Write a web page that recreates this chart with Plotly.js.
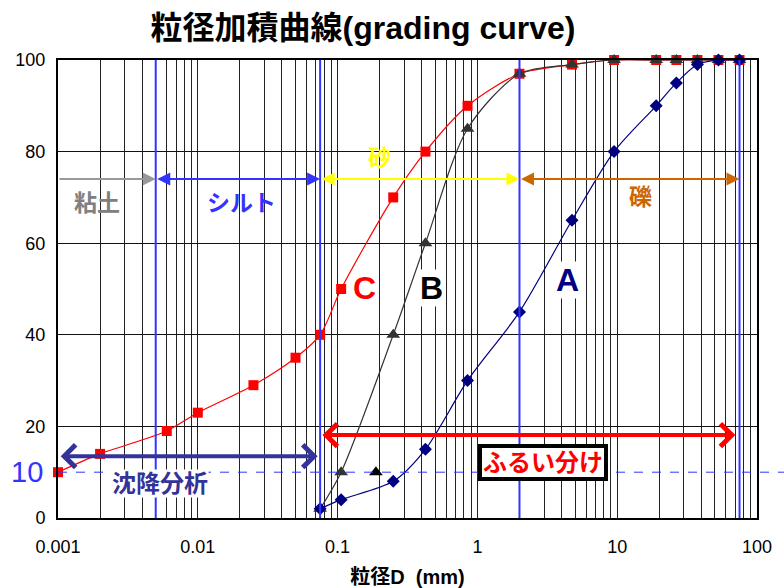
<!DOCTYPE html>
<html><head><meta charset="utf-8">
<script src="https://cdn.plot.ly/plotly-3.0.1.min.js"></script>
<style>body{margin:0;background:#fff}#c{width:784px;height:588px}</style>
</head><body><div id="c"></div>
<script>
// sieve / particle sizes (mm)
const sizesC = [0.001,0.002,0.006,0.01,0.025,0.05,0.075,0.106,0.25,0.425,0.85,2,4.75,9.5,19,26.5,37.5,53,75];
const passC  = [10,14,19,23,29,35,40,50,70,80,90,97,99,100,100,100,100,100,100];
const sizesB = [0.075,0.106,0.25,0.425,0.85,2,4.75,9.5,19,26.5,37.5,53,75];
const passB  = [2,10,40,60,85,97,99,100,100,100,100,100,100];
const sizesA = [0.075,0.106,0.25,0.425,0.85,2,4.75,9.5,19,26.5,37.5,53,75];
const passA  = [2,4,8,15,30,45,65,80,90,95,99,100,100];
const strayX = [0.188];
const strayY = [10];
// soil class boundaries (mm)
const bounds = [0.005,0.075,2,75];
const decadeTicks = [0.001,0.01,0.1,1,10,100];
const decadeLabels = ['0.001','0.01','0.1','1','10','100'];
const yTicks = [0,20,40,60,80,100];

const gridVals=[], gridText=[];
decadeTicks.forEach((d,i)=>{
  const n = (i===decadeTicks.length-1)?1:9;
  for(let m=1;m<=n;m++){gridVals.push(d*m);gridText.push(m===1?decadeLabels[i]:'');}
});

const traces = [
  {x:sizesC,y:passC,mode:'lines+markers',cliponaxis:false,line:{color:'#FF0000',width:1.2,shape:'spline',smoothing:0.8},
   marker:{symbol:'square',size:10,color:'#FF0000'}},
  {x:sizesB,y:passB,mode:'lines+markers',cliponaxis:false,line:{color:'#333333',width:1.2,shape:'spline',smoothing:0.8},
   marker:{symbol:'triangle-up',size:12,color:'#333333'}},
  {x:sizesA,y:passA,mode:'lines+markers',cliponaxis:false,line:{color:'#000080',width:1.2,shape:'spline',smoothing:0.8},
   marker:{symbol:'diamond',size:10,color:'#000080'}},
  {x:strayX,y:strayY,mode:'markers',marker:{symbol:'triangle-up',size:12,color:'#000000'}}
];

const L = Math.log10;
const shapes = bounds.map(b=>({type:'line',xref:'x',yref:'y',x0:b,x1:b,y0:0,y1:100,
  line:{color:'#3333FF',width:2}}));
shapes.push({type:'line',xref:'paper',yref:'y',x0:0,x1:1.04,y0:10,y1:10,
  line:{color:'#3333FF',width:1,dash:'dash'}});

function arrow(x0,x1,y,color,w,both,head,size){
  return {xref:'x',yref:'y',axref:'x',ayref:'y',x:L(x1),y:y,ax:L(x0),ay:y,text:'',
    showarrow:true,arrowcolor:color,arrowwidth:w,arrowhead:head,startarrowhead:head,
    arrowsize:size,startarrowsize:size,arrowside:both?'end+start':'end',standoff:0,startstandoff:0};
}
const JP = 'Liberation Sans, Noto Sans CJK JP, sans-serif';
function label(x,y,text,color,size,extra){
  return Object.assign({xref:'x',yref:'y',x:L(x),y:y,text:'<b>'+text+'</b>',showarrow:false,
    font:{family:JP,size:size,color:color}},extra||{});
}
const annotations = [
  arrow(0.001,0.005,74,'#999999',2,false,2,1.3),
  arrow(0.005,0.075,74,'#3333FF',2,true,2,1.3),
  arrow(0.075,2,74,'#FFFF00',2,true,2,1.3),
  arrow(2,75,74,'#CC6600',2,true,2,1.3),
  arrow(0.00102,0.072,13.5,'#333399',4,true,4,1.1),
  arrow(0.076,70,18.1,'#FF0000',4,true,4,1.1),
  label(0.0019,68.8,'粘土','#808080',23),
  label(0.0204,68.8,'シルト','#3333FF',23),
  label(0.201,78.6,'砂','#FFFF00',23),
  label(14.6,70.1,'礫','#CC6600',23),
  label(0.157,50.2,'C','#FF0000',32,{bgcolor:'#ffffff',borderpad:0}),
  label(0.473,50.2,'B','#000000',32,{bgcolor:'#ffffff',borderpad:0}),
  label(4.38,52,'A','#000080',32,{bgcolor:'#ffffff',borderpad:0}),
  label(0.0054,7.6,'沈降分析','#333399',24,{bgcolor:'#ffffff',borderpad:0}),
  label(2.95,12.2,'ふるい分け','#FF0000',24,
    {bgcolor:'#ffffff',bordercolor:'#000000',borderwidth:4,borderpad:1}),
  {xref:'paper',yref:'y',x:-0.044,y:10,text:'10',showarrow:false,xanchor:'center',
   font:{family:'Liberation Sans, Arial, sans-serif',size:29,color:'#3333FF'}}
];

const layout = {
  width:784,height:588,
  margin:{l:58,r:27,t:60,b:70},
  paper_bgcolor:'#ffffff',plot_bgcolor:'#ffffff',
  showlegend:false,
  title:{text:'<b>粒径加積曲線(grading curve)</b>',xref:'container',x:0.463,xanchor:'center',
    y:0.952,yanchor:'middle',font:{family:JP,size:32,color:'#000'}},
  xaxis:{type:'log',range:[-3,2],tickmode:'array',tickvals:gridVals,ticktext:gridText,
    showgrid:true,gridcolor:'#222222',gridwidth:1,showline:true,linecolor:'#000',linewidth:2,mirror:true,
    ticks:'',ticklabelstandoff:11,zeroline:false,tickfont:{family:'Liberation Sans, Arial, sans-serif',size:18,color:'#000'},
    title:{text:'<b>粒径D  (mm)</b>',standoff:14,font:{family:JP,size:20,color:'#000'}}},
  yaxis:{range:[0,100],tickmode:'array',tickvals:yTicks,showgrid:true,gridcolor:'#111111',gridwidth:1,
    showline:true,linecolor:'#000',linewidth:2,mirror:true,ticks:'',zeroline:false,ticklabelstandoff:7,
    tickfont:{family:'Liberation Sans, Arial, sans-serif',size:18,color:'#000'}},
  shapes:shapes,annotations:annotations
};
Plotly.newPlot('c',traces,layout,{displayModeBar:false,staticPlot:true});
</script></body></html>
